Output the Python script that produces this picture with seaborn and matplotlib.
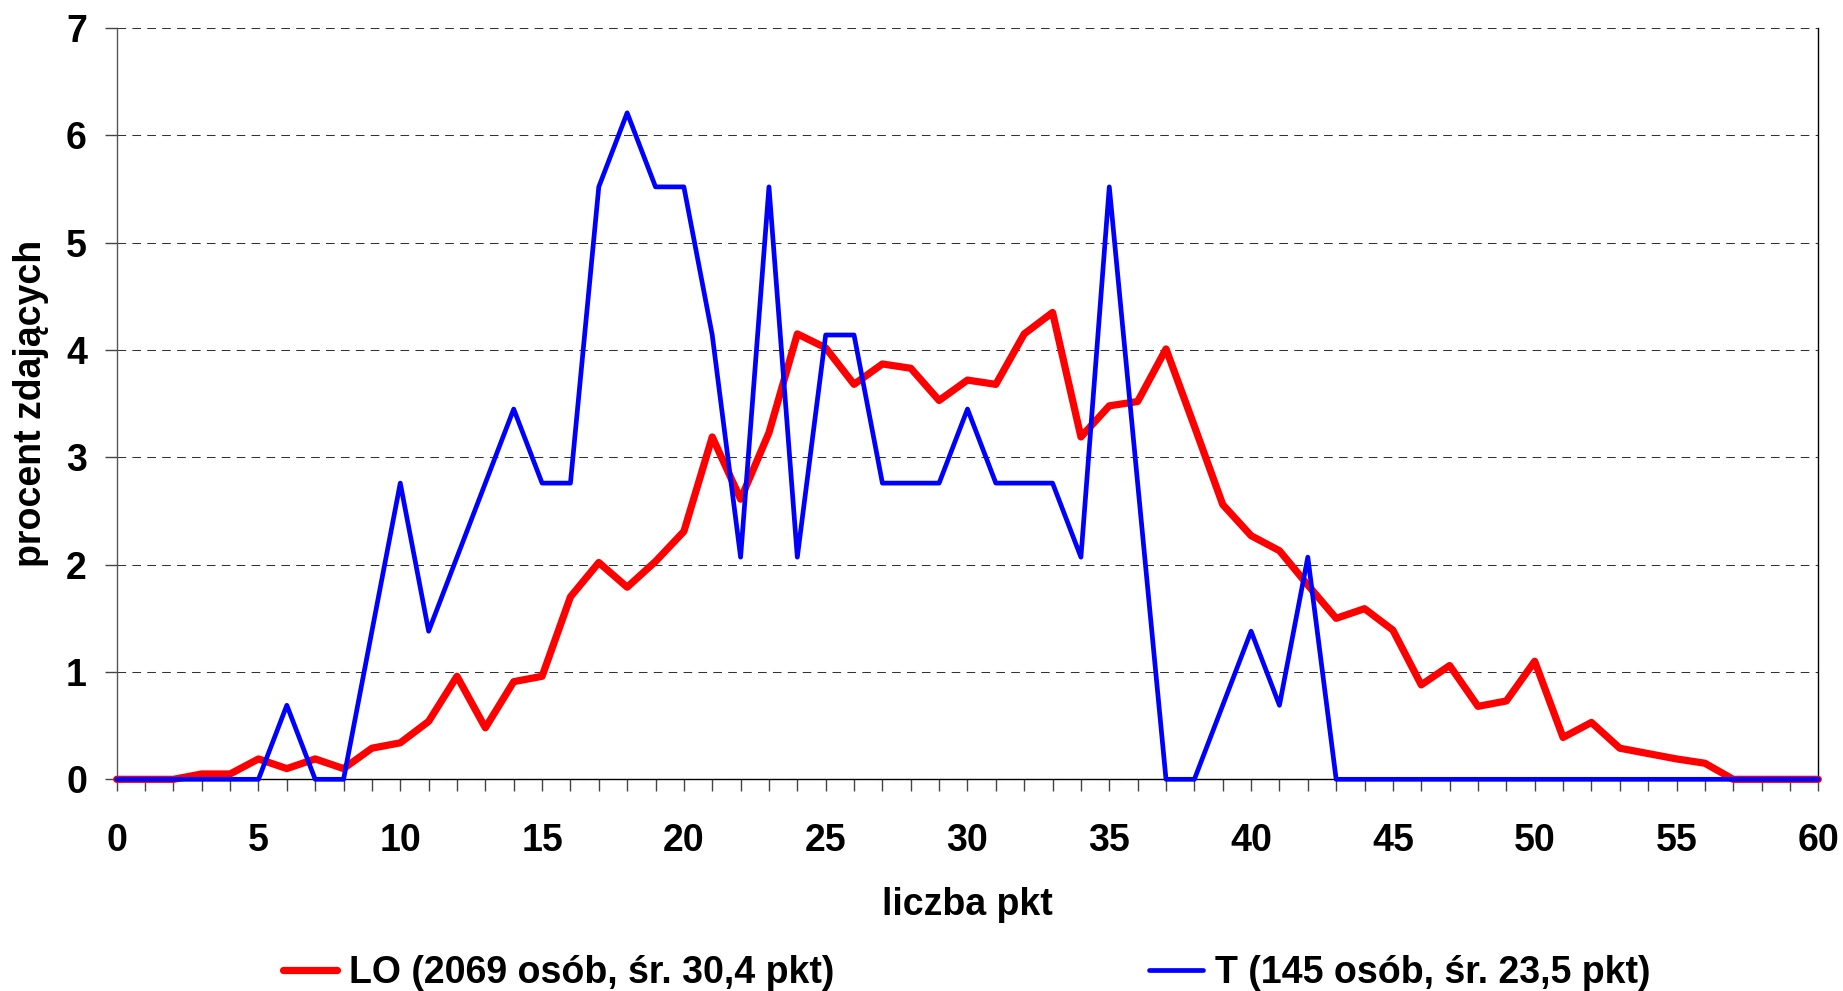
import numpy as np
import pandas as pd
import matplotlib
matplotlib.use('Agg')
import matplotlib.pyplot as plt
from matplotlib.ticker import MultipleLocator
import seaborn as sns

# ── Data ──────────────────────────────────────────────────────────────────────
points = list(range(0, 61))
lo_pct = [0, 0, 0, 0.05, 0.05, 0.19, 0.10, 0.19, 0.10, 0.29,
          0.34, 0.54, 0.96, 0.48, 0.91, 0.96, 1.70, 2.02, 1.79, 2.03,
          2.31, 3.19, 2.61, 3.23, 4.15, 4.02, 3.68, 3.87, 3.83, 3.53,
          3.72, 3.68, 4.15, 4.35, 3.19, 3.48, 3.52, 4.01, 3.29, 2.56,
          2.27, 2.13, 1.81, 1.50, 1.59, 1.39, 0.88, 1.06, 0.68, 0.73,
          1.10, 0.39, 0.53, 0.29, 0.24, 0.19, 0.15, 0, 0, 0,
          0]
t_pct = [0, 0, 0, 0, 0, 0, 0.69, 0, 0, 1.38,
         2.76, 1.38, 2.07, 2.76, 3.45, 2.76, 2.76, 5.52, 6.21, 5.52,
         5.52, 4.14, 2.07, 5.52, 2.07, 4.14, 4.14, 2.76, 2.76, 2.76,
         3.45, 2.76, 2.76, 2.76, 2.07, 5.52, 2.76, 0, 0, 0.69,
         1.38, 0.69, 2.07, 0, 0, 0, 0, 0, 0, 0,
         0, 0, 0, 0, 0, 0, 0, 0, 0, 0,
         0]
lo_label = 'LO (2069 osób, śr. 30,4 pkt)'
t_label = 'T (145 osób, śr. 23,5 pkt)'

df = pd.DataFrame({'pkt': points, 'LO': lo_pct, 'T': t_pct})

# ── Style ─────────────────────────────────────────────────────────────────────
sns.set_style('white')
plt.rcParams['font.family'] = ['Liberation Sans', 'DejaVu Sans']
plt.rcParams['font.weight'] = 'bold'
plt.rcParams['text.color'] = 'black'
plt.rcParams['axes.labelcolor'] = 'black'
plt.rcParams['xtick.color'] = 'black'
plt.rcParams['ytick.color'] = 'black'
FS = 27

fig = plt.figure(figsize=(18.43, 9.91), dpi=100)
ax = fig.add_axes([0.0633, 0.2136, 0.9233, 0.7581])

sns.lineplot(data=df, x='pkt', y='LO', ax=ax, color='#FF0000',
             linewidth=5.2, label=lo_label, clip_on=False, zorder=3)
sns.lineplot(data=df, x='pkt', y='T', ax=ax, color='#0000FF',
             linewidth=3.4, label=t_label, clip_on=False, zorder=4)

ax.set_xlim(0, 60)
ax.set_ylim(0, 7)
ax.xaxis.set_major_locator(MultipleLocator(5))
ax.xaxis.set_minor_locator(MultipleLocator(1))
ax.yaxis.set_major_locator(MultipleLocator(1))

ax.grid(axis='y', which='major', color='#333333', linewidth=0.75,
        linestyle=(0, (8.3, 6)))
ax.set_axisbelow(True)

ax.spines['top'].set_visible(False)
ax.spines['left'].set_color('#555555')
ax.spines['bottom'].set_color('black')
ax.spines['right'].set_color('black')
for s in ['left', 'bottom', 'right']:
    ax.spines[s].set_linewidth(1.0)

ax.tick_params(axis='x', which='both', direction='out', length=8.4,
               width=1.0, color='#444444', bottom=True)
ax.tick_params(axis='x', which='major', pad=23, labelsize=FS,
               labelcolor='black')
ax.tick_params(axis='y', which='major', direction='out', length=8.4,
               width=1.0, color='#444444', left=True, pad=13, labelsize=FS,
               labelcolor='black')
for lab in ax.get_xticklabels() + ax.get_yticklabels():
    lab.set_fontweight('bold')

ax.set_xlabel('liczba pkt', fontsize=FS, fontweight='bold', labelpad=20,
              color='black')
ax.set_ylabel('procent zdających', fontsize=FS, fontweight='bold',
              labelpad=12, color='black')

ax.legend_.remove()
handles, labels = ax.get_legend_handles_labels()
leg = fig.legend(handles, labels, loc='center', bbox_to_anchor=(0.5245, 0.018),
                 ncol=2, frameon=False, fontsize=FS, handlelength=1.45,
                 handletextpad=0.3, columnspacing=8.4, borderaxespad=0)
for t in leg.get_texts():
    t.set_fontweight('bold')
    t.set_color('black')

fig.savefig('out.png', dpi=100, facecolor='white')
